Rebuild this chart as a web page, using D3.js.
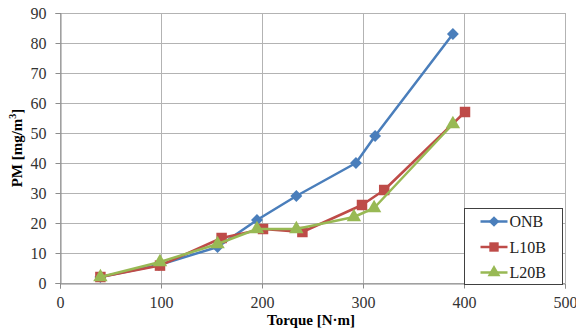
<!DOCTYPE html>
<html>
<head>
<meta charset="utf-8">
<script src="https://cdn.jsdelivr.net/npm/d3@7"></script>
<style>
  body { margin: 0; background: #fff; }
  svg text { font-family: "Liberation Serif", "Times New Roman", serif !important; }
</style>
</head>
<body>
<svg id="svg"></svg>
<script>
const seriesNames = ['ONB', 'L10B', 'L20B'];
const onbX = [40, 98, 156, 195, 234, 293, 312, 389];
const onbY = [2, 6, 12, 21, 29, 40, 49, 83];
const l10bX = [40, 99, 160, 201, 240, 299, 321, 401];
const l10bY = [2, 5.8, 15, 18, 17, 26, 31, 57];
const l20bX = [40, 99, 156, 195, 234, 291, 311, 389];
const l20bY = [2, 7, 13, 18, 18, 22, 25, 53];
const xTicks = [0, 100, 200, 300, 400, 500];
const yTicks = [0, 10, 20, 30, 40, 50, 60, 70, 80, 90];
const colors = ['#4a7ebb', '#be4b48', '#98b954'];

const width = 576, height = 331;
const margin = { top: 13, right: 11, bottom: 48, left: 60 };

const svg = d3.select('#svg').attr('width', width).attr('height', height);

const x = d3.scaleLinear().domain([0, 500]).range([margin.left, width - margin.right]);
const y = d3.scaleLinear().domain([0, 90]).range([height - margin.bottom, margin.top]);

// grid
const grid = svg.append('g').attr('stroke', '#b3b3b3').attr('stroke-width', 1);
grid.selectAll('.hg').data(yTicks).join('line')
  .attr('x1', x(0)).attr('x2', x(500))
  .attr('y1', d => Math.round(y(d)) + 0.5).attr('y2', d => Math.round(y(d)) + 0.5);
grid.selectAll('.vg').data(xTicks).join('line')
  .attr('y1', y(0)).attr('y2', y(90))
  .attr('x1', d => Math.round(x(d)) + 0.5).attr('x2', d => Math.round(x(d)) + 0.5);

// axes
const xAxis = svg.append('g')
  .attr('transform', `translate(0,${Math.round(y(0)) + 0.5})`)
  .call(d3.axisBottom(x).tickValues(xTicks).tickSize(5).tickPadding(8));
const yAxis = svg.append('g')
  .attr('transform', `translate(${Math.round(x(0)) + 0.5},0)`)
  .call(d3.axisLeft(y).tickValues(yTicks).tickSize(5).tickPadding(9));
[xAxis, yAxis].forEach(a => {
  a.attr('font-family', null).attr('font-size', null);
  a.select('.domain').attr('stroke', '#8c8c8c');
  a.selectAll('.tick line').attr('stroke', '#8c8c8c');
  a.selectAll('text').style('font-size', '16px').attr('fill', '#333');
});

// axis titles
svg.append('text')
  .attr('x', 311).attr('y', 325)
  .attr('text-anchor', 'middle')
  .attr('font-weight', 'bold').attr('font-size', 15)
  .text('Torque [N·m]');
const yt = svg.append('text')
  .attr('transform', `translate(22,${148}) rotate(-90)`)
  .attr('text-anchor', 'middle')
  .attr('font-weight', 'bold').attr('font-size', 15);
yt.append('tspan').text('PM [mg/m');
yt.append('tspan').attr('font-size', 10).attr('dy', -6).text('3');
yt.append('tspan').attr('dy', 6).text(']');

// series
const series = [
  { name: seriesNames[0], xs: onbX, ys: onbY, sym: d3.symbolDiamond2, size: 90 },
  { name: seriesNames[1], xs: l10bX, ys: l10bY, sym: d3.symbolSquare, size: 110 },
  { name: seriesNames[2], xs: l20bX, ys: l20bY, sym: d3.symbolTriangle, size: 90 }
];
const line = d3.line().x(d => x(d[0])).y(d => y(d[1]));

series.forEach((s, i) => {
  const pts = s.xs.map((v, k) => [v, s.ys[k]]);
  const g = svg.append('g');
  g.append('path').datum(pts)
    .attr('d', line)
    .attr('fill', 'none')
    .attr('stroke', colors[i])
    .attr('stroke-width', 2.5)
    .attr('stroke-linejoin', 'round');
  g.selectAll('path.m').data(pts).join('path')
    .attr('class', 'm')
    .attr('transform', d => `translate(${x(d[0])},${y(d[1])})`)
    .attr('d', d3.symbol().type(s.sym).size(s.size))
    .attr('fill', colors[i]);
});

// legend
const lg = svg.append('g').attr('transform', 'translate(464.5,208.5)');
lg.append('rect').attr('width', 98).attr('height', 76)
  .attr('fill', '#fff').attr('stroke', '#404040').attr('stroke-width', 1);
series.forEach((s, i) => {
  const yy = 13 + i * 25.5;
  lg.append('line').attr('x1', 16).attr('x2', 43).attr('y1', yy).attr('y2', yy)
    .attr('stroke', colors[i]).attr('stroke-width', 2.5);
  lg.append('path')
    .attr('transform', `translate(29.5,${yy})`)
    .attr('d', d3.symbol().type(s.sym).size(s.size * 0.8))
    .attr('fill', colors[i]);
  lg.append('text').attr('x', 45).attr('y', yy + 5.5)
    .attr('font-size', 16).attr('fill', '#222')
    .text(s.name);
});
</script>
</body>
</html>
